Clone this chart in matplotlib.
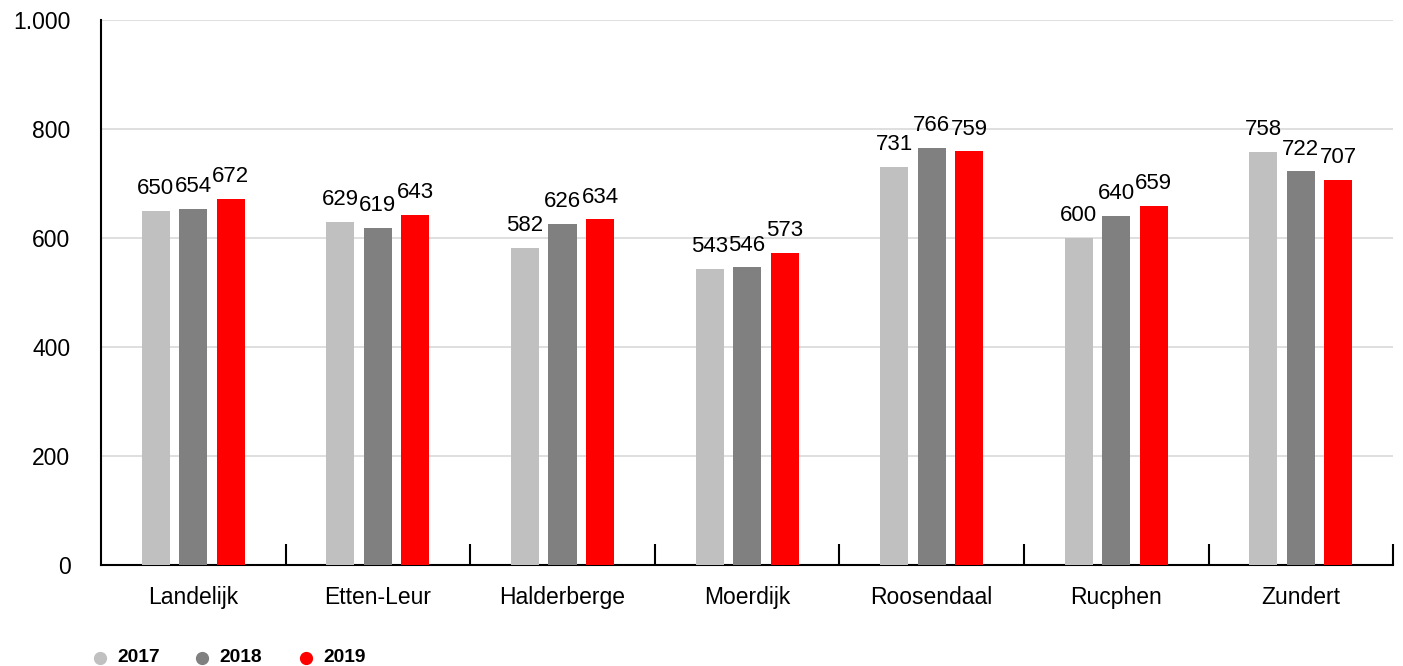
import numpy as np
import matplotlib
matplotlib.use("Agg")
import matplotlib.pyplot as plt
from matplotlib.lines import Line2D
from matplotlib.ticker import FuncFormatter

plt.rcParams['font.family'] = ['Liberation Sans', 'DejaVu Sans']

categories = ['Landelijk', 'Etten-Leur', 'Halderberge', 'Moerdijk', 'Roosendaal', 'Rucphen', 'Zundert']
years = ['2017', '2018', '2019']
vals_2017 = [650, 629, 582, 543, 731, 600, 758]
vals_2018 = [654, 619, 626, 546, 766, 640, 722]
vals_2019 = [672, 643, 634, 573, 759, 659, 707]
colors = ['#c0c0c0', '#808080', '#ff0000']

W, H = 1403, 666
fig = plt.figure(figsize=(W / 100, H / 100), dpi=100)
ax = fig.add_axes([0.072, 0.1517, 0.921, 0.8183])

x = np.arange(len(categories))
width = 0.152
step = 0.203
for i, (vals, col) in enumerate(zip([vals_2017, vals_2018, vals_2019], colors)):
    pos = x + (i - 1) * step
    ax.bar(pos, vals, width=width, color=col, zorder=3)
    for px, v in zip(pos, vals):
        ax.annotate(str(v), (px, v), xytext=(0, 8.5), textcoords='offset points',
                    ha='center', va='bottom', fontsize=16, zorder=4)

ax.set_ylim(0, 1000)
ax.set_xlim(-0.5, len(categories) - 0.5)
ax.set_yticks([0, 200, 400, 600, 800, 1000])
ax.yaxis.set_major_formatter(FuncFormatter(lambda v, p: f'{int(v):,}'.replace(',', '.')))
ax.grid(axis='y', color='#d9d9d9', linewidth=1.2, zorder=0)
ax.tick_params(axis='y', length=0, pad=22, labelsize=16.5)

ax.set_xticks(x)
ax.set_xticklabels(categories)
ax.tick_params(axis='x', which='major', length=0, pad=15, labelsize=16.5)
ax.set_xticks(np.arange(0.5, len(categories), 1), minor=True)
ax.tick_params(axis='x', which='minor', direction='in', length=15, width=1.5, color='black')

for s in ['top', 'right']:
    ax.spines[s].set_visible(False)
for s in ['left', 'bottom']:
    ax.spines[s].set_color('black')
    ax.spines[s].set_linewidth(1.5)

# legend drawn by hand along the bottom
leg_x = [100, 202, 306]
leg_y = 658
for lx, yr, col in zip(leg_x, years, colors):
    fig.add_artist(Line2D([lx / W], [1 - leg_y / H], transform=fig.transFigure,
                          marker='o', linestyle='', markersize=8.5, color=col))
    fig.text((lx + 17) / W, 1 - leg_y / H, yr, ha='left', va='center',
             fontsize=13.8, fontweight='bold')

fig.savefig('out.png', dpi=100)
